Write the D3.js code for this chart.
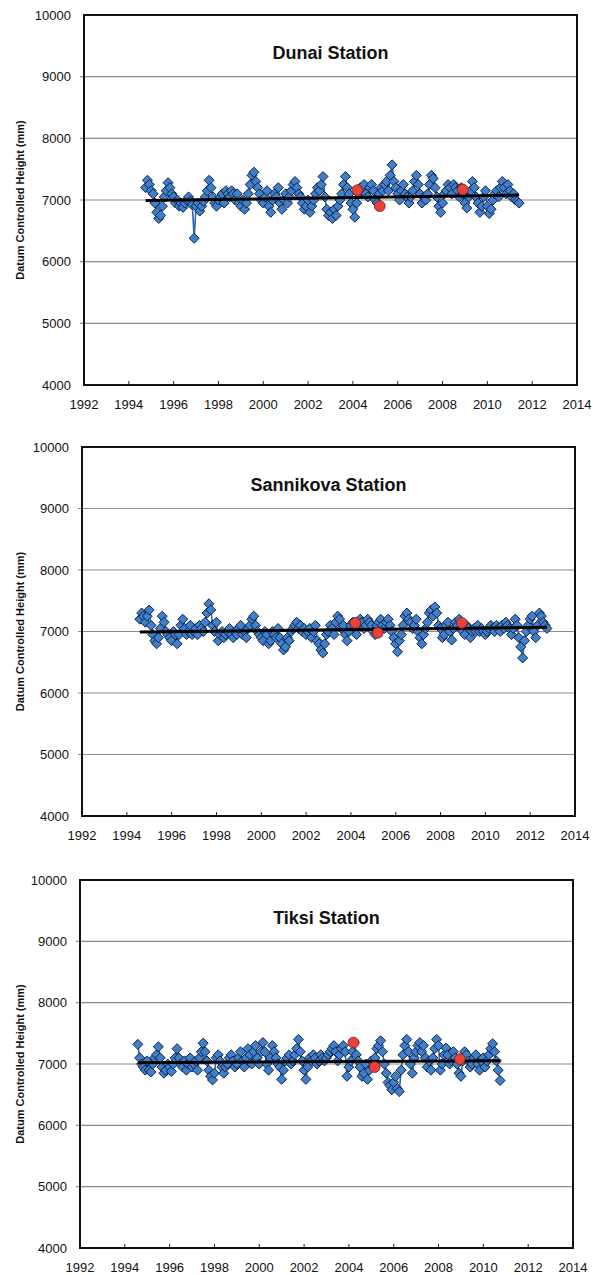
<!DOCTYPE html>
<html>
<head>
<meta charset="utf-8">
<script src="https://cdn.jsdelivr.net/npm/d3@7"></script>
<style>
  html, body { margin: 0; padding: 0; background: #fff; }
  svg { display: block; font-family: "Liberation Sans", Arial, Helvetica, sans-serif; }
</style>
</head>
<body>
<svg id="chart" width="593" height="1275"></svg>
<script>
// Monthly datum controlled heights (mm) for three tide-gauge stations.
const stationNames = ["Dunai Station", "Sannikova Station", "Tiksi Station"];

// First month of each record, as a decimal year
const dunaiStart = 1994.75;
const sannikovaStart = 1994.58;
const tiksiStart = 1994.58;

const dunaiHeights = [
  7200, 7320, 7250,
  7150, 7100, 6950, 6800, 6700, 6750, 6900, 7050, 7150, 7280, 7200, 7100,
  7050, 6950, 7000, 6900, 6950, 6880, 6950, 7000, 7050, 6980, 6920, 6380,
  6900, 6950, 6820, 6900, 6980, 7050, 7150, 7320, 7200, 7050, 6950, 6900,
  7000, 7050, 7100, 6950, 7150, 7100, 7050, 7150, 7100, 7000, 7100, 6950,
  6900, 7000, 6850, 6950, 7100, 7250, 7400, 7450, 7300, 7200, 7100, 7000,
  6950, 7050, 7150, 6900, 6800, 7000, 7100, 7050, 7200, 6950, 6850, 7000,
  7100, 6950, 7050, 7150, 7250, 7300, 7200, 7100, 7050, 6950, 6850, 6900,
  7000, 6800, 6900, 7000, 7100, 7200, 7150, 7250, 7380, 7050, 6850, 6750,
  6800, 6700, 6850, 6750, 6900, 7000, 7100, 7250, 7380, 7200, 7100, 6950,
  6850, 6720, 6950, 7100, 7200, 7150, 7250, 7100, 7050, 7200, 7250, 7150,
  7000, 6950, 7100, 7200, 7150, 7250, 7300, 7150, 7400, 7570, 7300, 7200,
  7100, 7000, 7150, 7250, 7100, 7050, 6950, 7050, 7150, 7300, 7400, 7250,
  7100, 6950, 7050, 7000, 7100, 7250, 7400, 7350, 7200, 7050, 6900, 6800,
  6950, 7100, 7150, 7250, 7200, 7100, 7250, 7200, 7150, 7050, 7200, 7100,
  6950, 6870, 7050, 7150, 7300, 7200, 7050, 6950, 6800, 6900, 7050, 7150,
  6900, 6780, 6850, 7000, 7100, 7150, 7050, 7200, 7300, 7200, 7100, 7250,
  7150, 7050, 7100, 7000, 6980, 6950
];

const sannikovaHeights = [
  7200, 7300, 7250, 7150, 7250,
  7350, 7100, 6950, 6850, 6800, 6900, 7050, 7250, 7150, 7000, 6950, 6900,
  6850, 7000, 6950, 6800, 6950, 7100, 7200, 7050, 6950, 7000, 7100, 6950,
  7000, 7050, 6950, 7100, 7050, 7000, 7150, 7300, 7450, 7350, 7100, 7000,
  7150, 6850, 6950, 7000, 6900, 6950, 7000, 7050, 6950, 6900, 7000, 6950,
  7050, 7100, 6950, 7000, 6900, 7050, 7100, 7200, 7250, 7100, 7000, 6950,
  6900, 6850, 7000, 6950, 6800, 6850, 7000, 6950, 6900, 7050, 6900, 6800,
  6700, 6750, 6900, 6850, 7000, 7050, 7100, 7150, 7050, 7100, 7000, 7050,
  6950, 7000, 7050, 6900, 7000, 7100, 6850, 6800, 6700, 6650, 6800, 6950,
  7000, 7100, 7050, 6950, 7150, 7250, 7200, 7050, 7100, 6950, 6850, 7000,
  7100, 7150, 7050, 6950, 7100, 7200, 7150, 7050, 7100, 7200, 7150, 7100,
  7000, 6950, 7100, 7150, 7200, 7100, 7050, 7150, 7200, 7100, 7000, 6900,
  6800, 6670, 6850, 6950, 7100, 7250, 7300, 7200, 7150, 7050, 7100, 7200,
  7000, 6900, 6800, 6950, 7050, 7150, 7300, 7350, 7250, 7400, 7300, 7100,
  7050, 6900, 6950, 7100, 7150, 7000, 6860, 7050, 7150, 7100, 7200, 7050,
  7000, 6950, 7100, 7050, 6900, 7000, 7050, 7000, 7100, 7000, 7050, 7000,
  6950, 7000, 7050, 7100, 7050, 7000, 7100, 7050, 7000, 7100, 7050, 7150,
  7100, 7050, 6950, 7050, 7200, 7100, 6900, 6750, 6570, 6850, 7000, 7100,
  7200, 7250, 7000, 6900, 7100, 7300, 7250, 7150, 7100, 7050
];

const tiksiHeights = [
  7320, 7100, 7000, 6950, 6900,
  7050, 6900, 6870, 7000, 7100, 7150, 7280, 7100, 6950, 6850, 6900, 7000,
  6950, 6880, 7000, 7100, 7250, 7100, 7000, 6950, 7050, 6900, 7000, 7100,
  6950, 7000, 7050, 6900, 7100, 7200, 7340, 7200, 7050, 6900, 6800, 6740,
  6850, 7100, 7150, 7050, 6950, 6850, 6950, 7000, 7100, 7150, 7050, 6950,
  7000, 7100, 7200, 7050, 6950, 7100, 7250, 7150, 7000, 7200, 7300, 7100,
  7000, 7200, 7350, 7200, 7000, 6900, 7100, 7300, 7200, 7100, 7000, 6950,
  6750, 6900, 7050, 7100, 7150, 7000, 7050, 7150, 7250, 7400, 7200, 7050,
  6900, 6750, 6950, 7100, 7050, 7150, 7100, 7000, 7050, 7150, 7100, 7050,
  7100, 7150, 7200, 7250, 7300, 7200, 7050, 7150, 7250, 7300, 7200, 6800,
  6950, 7050, 7200, 7350, 7150, 7050, 6950, 6800, 6850, 7000, 6750, 6900,
  7050, 6950, 7100, 7250, 7300, 7380, 7200, 7000, 6850, 6700, 6650, 6580,
  6700, 6800, 6600, 6550, 6900, 7150, 7300, 7400, 7200, 7000, 6850, 7100,
  7200, 7300, 7350, 7200, 7300, 7100, 6950, 7050, 6900, 7100, 7250, 7400,
  7300, 6900, 7000, 7150, 7260, 7150, 7000, 7050, 7200, 7100, 7000, 6850,
  6800, 7050, 7200, 7150, 7050, 6950, 7000, 7100, 7150, 7000, 6900, 7050,
  7100, 6950, 7050, 7150, 7250, 7330, 7200, 7050, 6900, 6730
];

// Highlighted survey readings [decimal year, height]
const dunaiSurvey = [[2004.2, 7160], [2005.2, 6900], [2008.9, 7170]];
const sannikovaSurvey = [[2004.2, 7140], [2005.2, 6980], [2008.95, 7140]];
const tiksiSurvey = [[2004.2, 7350], [2005.15, 6950], [2008.95, 7080]];

// Linear trend end points [decimal year, height]
const dunaiTrend = [[1994.75, 6990], [2011.42, 7080]];
const sannikovaTrend = [[1994.58, 6990], [2012.75, 7070]];
const tiksiTrend = [[1994.58, 7020], [2010.75, 7055]];

// Axis ticks
const yearTicks = [1992, 1994, 1996, 1998, 2000, 2002, 2004, 2006, 2008, 2010, 2012, 2014];
const heightTicks = [4000, 5000, 6000, 7000, 8000, 9000, 10000];
const yAxisTitle = "Datum Controlled Height (mm)";

const stations = [
  { name: stationNames[0], start: dunaiStart, values: dunaiHeights, survey: dunaiSurvey, trend: dunaiTrend },
  { name: stationNames[1], start: sannikovaStart, values: sannikovaHeights, survey: sannikovaSurvey, trend: sannikovaTrend },
  { name: stationNames[2], start: tiksiStart, values: tiksiHeights, survey: tiksiSurvey, trend: tiksiTrend }
];

// Plot frames for the three stacked panels
const frames = [
  { left: 84, right: 577, top: 15, bottom: 385 },
  { left: 82, right: 575, top: 447, bottom: 816 },
  { left: 80, right: 573, top: 880, bottom: 1248 }
];

const svg = d3.select("#chart");
const diamond = "M0,-5L5,0L0,5L-5,0Z";

stations.forEach((st, k) => {
  const f = frames[k];
  const x = d3.scaleLinear().domain([1992, 2014]).range([f.left, f.right]);
  const y = d3.scaleLinear().domain([4000, 10000]).range([f.bottom, f.top]);
  const g = svg.append("g");

  // horizontal gridlines
  g.selectAll("line.grid").data(heightTicks.filter(t => t > 4000 && t < 10000)).join("line")
    .attr("x1", f.left - 4).attr("x2", f.right)
    .attr("y1", d => y(d)).attr("y2", d => y(d))
    .attr("stroke", "#8c8c8c").attr("stroke-width", 1.2);

  // y axis tick labels
  g.selectAll("text.ytick").data(heightTicks).join("text")
    .attr("x", f.left - 13).attr("y", d => y(d)).attr("dy", "0.35em")
    .attr("text-anchor", "end").attr("font-size", 13).attr("fill", "#111")
    .text(d => d);

  // x axis ticks (inward) and labels
  g.selectAll("line.xtick").data(yearTicks.slice(1, -1)).join("line")
    .attr("x1", d => x(d)).attr("x2", d => x(d))
    .attr("y1", f.bottom).attr("y2", f.bottom - 4)
    .attr("stroke", "#222").attr("stroke-width", 1);
  g.selectAll("text.xtick").data(yearTicks).join("text")
    .attr("x", d => x(d)).attr("y", f.bottom + 24)
    .attr("text-anchor", "middle").attr("font-size", 13).attr("fill", "#111")
    .text(d => d);

  // y axis title
  const cy = (f.top + f.bottom) / 2;
  g.append("text")
    .attr("transform", `translate(24,${cy}) rotate(-90)`)
    .attr("text-anchor", "middle").attr("font-size", 11).attr("font-weight", "bold")
    .attr("fill", "#111").text(yAxisTitle);

  // frame
  g.append("rect")
    .attr("x", f.left).attr("y", f.top)
    .attr("width", f.right - f.left).attr("height", f.bottom - f.top)
    .attr("fill", "none").attr("stroke", "#111").attr("stroke-width", 2);

  // station title
  g.append("text")
    .attr("x", (f.left + f.right) / 2).attr("y", f.top + 44)
    .attr("text-anchor", "middle").attr("font-size", 18).attr("font-weight", "bold")
    .attr("fill", "#111").text(st.name);

  const pts = st.values.map((v, i) => [st.start + i / 12, v]);

  // connecting series line
  g.append("path").datum(pts)
    .attr("d", d3.line().x(d => x(d[0])).y(d => y(d[1])))
    .attr("fill", "none").attr("stroke", "#2f66b0").attr("stroke-width", 1.6);

  // diamond markers
  g.selectAll("path.pt").data(pts).join("path")
    .attr("d", diamond)
    .attr("transform", d => `translate(${x(d[0])},${y(d[1])})`)
    .attr("fill", "#3f7fcc").attr("stroke", "#0f2240").attr("stroke-width", 1);

  // trend line
  g.append("path").datum(st.trend)
    .attr("d", d3.line().x(d => x(d[0])).y(d => y(d[1])))
    .attr("fill", "none").attr("stroke", "#000").attr("stroke-width", 3);

  // survey readings
  g.selectAll("circle.sv").data(st.survey).join("circle")
    .attr("cx", d => x(d[0])).attr("cy", d => y(d[1])).attr("r", 5.4)
    .attr("fill", "#e8413a").attr("stroke", "#7a1a14").attr("stroke-width", 0.8);
});
</script>
</body>
</html>
